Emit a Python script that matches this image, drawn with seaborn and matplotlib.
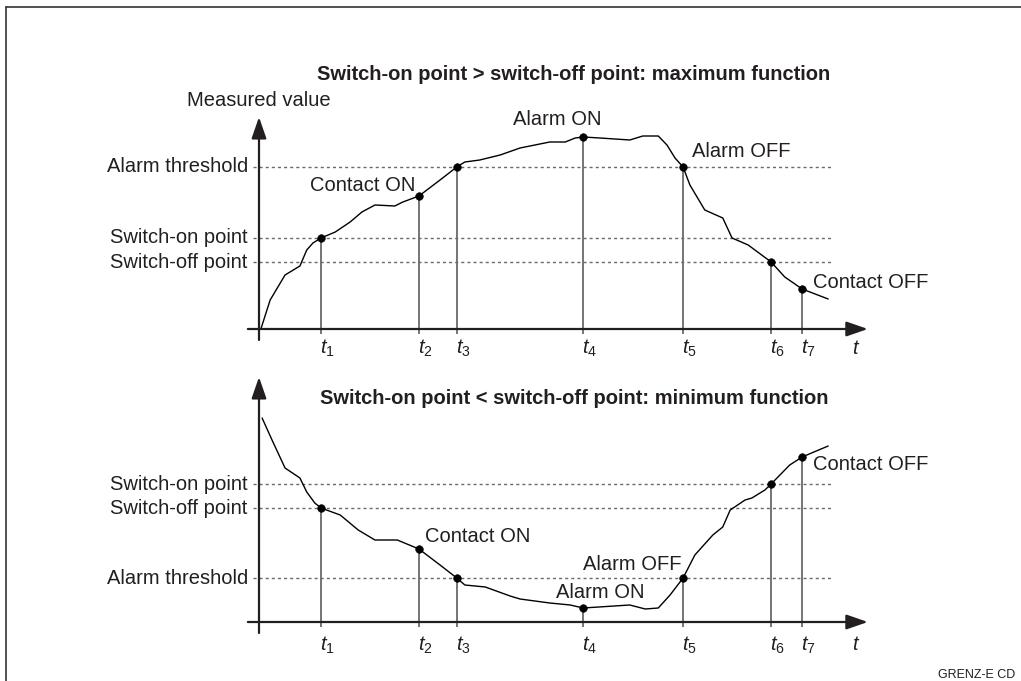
import numpy as np
import pandas as pd
import matplotlib
matplotlib.use('Agg')
import matplotlib.pyplot as plt
from matplotlib.lines import Line2D
import seaborn as sns

sns.set_style('white')
plt.rcParams['font.family'] = ['Liberation Sans', 'DejaVu Sans']
plt.rcParams['mathtext.fontset'] = 'custom'
plt.rcParams['mathtext.it'] = 'Liberation Sans:italic'
plt.rcParams['mathtext.rm'] = 'Liberation Sans'

# event times t1..t7 (same in both panels)
t_events = [1.00, 2.58, 3.19, 5.23, 6.84, 8.26, 8.76]
t_labels = ['$t_1$', '$t_2$', '$t_3$', '$t_4$', '$t_5$', '$t_6$', '$t_7$']

# top panel: maximum function
max_time = [0.03, 0.18, 0.42, 0.66, 0.77, 0.87, 1.00, 1.23, 1.47, 1.66, 1.87, 2.19, 2.32, 2.58,
            2.92, 3.19, 3.32, 3.56, 3.89, 4.21, 4.69, 4.94, 5.10, 5.23, 5.50, 5.98, 6.19, 6.44,
            6.58, 6.71, 6.84, 6.95, 7.19, 7.48, 7.63, 7.89, 8.26, 8.48, 8.76, 9.18]
max_value = [0, 14.5, 27, 31.5, 39.5, 43, 45.5, 48.5, 53.5, 58.5, 62, 61.5, 63.5, 66.5,
             74.5, 81, 83.5, 84.5, 87, 90.5, 93.5, 93.5, 95.5, 96, 95.5, 94.5, 96.5, 96.5,
             92, 85.5, 81, 72, 59.5, 55.5, 45.5, 42, 33.5, 26, 20, 15]
max_levels = {'Alarm threshold': 81, 'Switch-on point': 45.5, 'Switch-off point': 33.5}
max_event_values = [45.5, 66.5, 81, 96, 81, 33.5, 20]

# bottom panel: minimum function
min_time = [0.05, 0.21, 0.42, 0.66, 0.77, 0.90, 1.00, 1.31, 1.60, 1.87, 2.23, 2.58, 2.92, 3.19,
            3.32, 3.65, 4.05, 4.21, 4.69, 5.02, 5.23, 5.98, 6.23, 6.44, 6.63, 6.84, 7.03, 7.32,
            7.48, 7.60, 7.84, 7.95, 8.16, 8.26, 8.56, 8.76, 9.18]
min_value = [102, 91, 77, 72, 65, 59.5, 57, 53.5, 46, 41, 41, 36.5, 28.5, 22,
             18.5, 17.5, 13, 11.5, 9.5, 8.5, 7, 8.5, 6.5, 7, 13.5, 22, 33.5, 43.5,
             47.5, 56, 61, 62, 66, 69, 78.5, 82.5, 88]
min_levels = {'Switch-on point': 69, 'Switch-off point': 57, 'Alarm threshold': 22}
min_event_values = [57, 36.5, 22, 7, 22, 69, 82.5]

ink = '#231f20'
grey = '#6a6a6a'
fs = 14.5

W, H = 1021, 681
fig = plt.figure(figsize=(W / 100, H / 100), dpi=100)


def make_axes(y0px, ylim):
    # origin of the data at pixel (259, y0px), 62 px per time unit, 2 px per value unit
    xlim = (-0.35, 10.0)
    left = 259 + xlim[0] * 62
    right = 259 + xlim[1] * 62
    bottom = y0px - ylim[0] * 2
    top = y0px - ylim[1] * 2
    ax = fig.add_axes([left / W, (H - bottom) / H, (right - left) / W, (bottom - top) / H])
    ax.set_xlim(*xlim)
    ax.set_ylim(*ylim)
    ax.axis('off')
    return ax


def draw_panel(ax, time, value, levels, ev_values, y_top, tick_y, title, title_y, notes):
    arrow = dict(arrowstyle='-|>,head_length=1.3,head_width=0.45', mutation_scale=10,
                 lw=1.6, color=ink, shrinkA=0, shrinkB=0)
    ax.annotate('', xy=(0, y_top), xytext=(0, -5.5), arrowprops=arrow)
    ax.annotate('', xy=(9.82, 0), xytext=(-0.18, 0), arrowprops=arrow)

    for name, lv in levels.items():
        ax.hlines(lv, -0.1, 9.22, colors=grey, lw=1.0, linestyles=(0, (2.2, 2.2)))
        ax.text(-0.18, lv, name, ha='right', va='center', fontsize=fs, color=ink)

    ax.vlines(t_events, -2.5, ev_values, colors=grey, lw=1.3)
    for t, lab in zip(t_events, t_labels):
        ax.text(t + 0.1, tick_y, lab, ha='center', va='center', fontsize=fs, color=ink)
    ax.text(9.63, tick_y, '$t$', ha='center', va='center', fontsize=fs, color=ink)

    df = pd.DataFrame({'time': time, 'value': value})
    sns.lineplot(data=df, x='time', y='value', ax=ax, color='black', lw=1.0, sort=False)
    ev = pd.DataFrame({'time': t_events, 'value': ev_values})
    sns.scatterplot(data=ev, x='time', y='value', ax=ax, color='black', s=30,
                    edgecolor='black', zorder=5)
    ax.axis('off')

    ax.text(5.08, title_y, title, ha='center', va='center', fontsize=fs,
            fontweight='bold', color=ink)
    for x, y, s in notes:
        ax.text(x, y, s, ha='left', va='center', fontsize=fs, color=ink)


ax1 = make_axes(329, (-10, 110))
draw_panel(ax1, max_time, max_value, max_levels, max_event_values, 106, -9.5,
           'Switch-on point > switch-off point: maximum function', 127,
           [(0.82, 71.5, 'Contact ON'), (4.10, 104.5, 'Alarm ON'),
            (6.98, 88.5, 'Alarm OFF'), (8.94, 23.5, 'Contact OFF')])
ax1.text(0.0, 114, 'Measured value', ha='center', va='center', fontsize=fs, color=ink)

ax2 = make_axes(622, (-10, 125))
draw_panel(ax2, min_time, min_value, min_levels, min_event_values, 122.5, -11.5,
           'Switch-on point < switch-off point: minimum function', 112,
           [(2.68, 42.5, 'Contact ON'), (4.79, 14.5, 'Alarm ON'),
            (5.23, 28.5, 'Alarm OFF'), (8.94, 78.5, 'Contact OFF')])

# frame
fig.add_artist(Line2D([6 / W, 6 / W], [0, 1 - 7 / H], color='#333333', lw=1.2))
fig.add_artist(Line2D([6 / W, 1], [1 - 7 / H, 1 - 7 / H], color='#333333', lw=1.2))
fig.text(938 / W, 6 / H, 'GRENZ-E CD', ha='left', va='center', fontsize=9, color=ink)

fig.savefig('out.png', dpi=100)
